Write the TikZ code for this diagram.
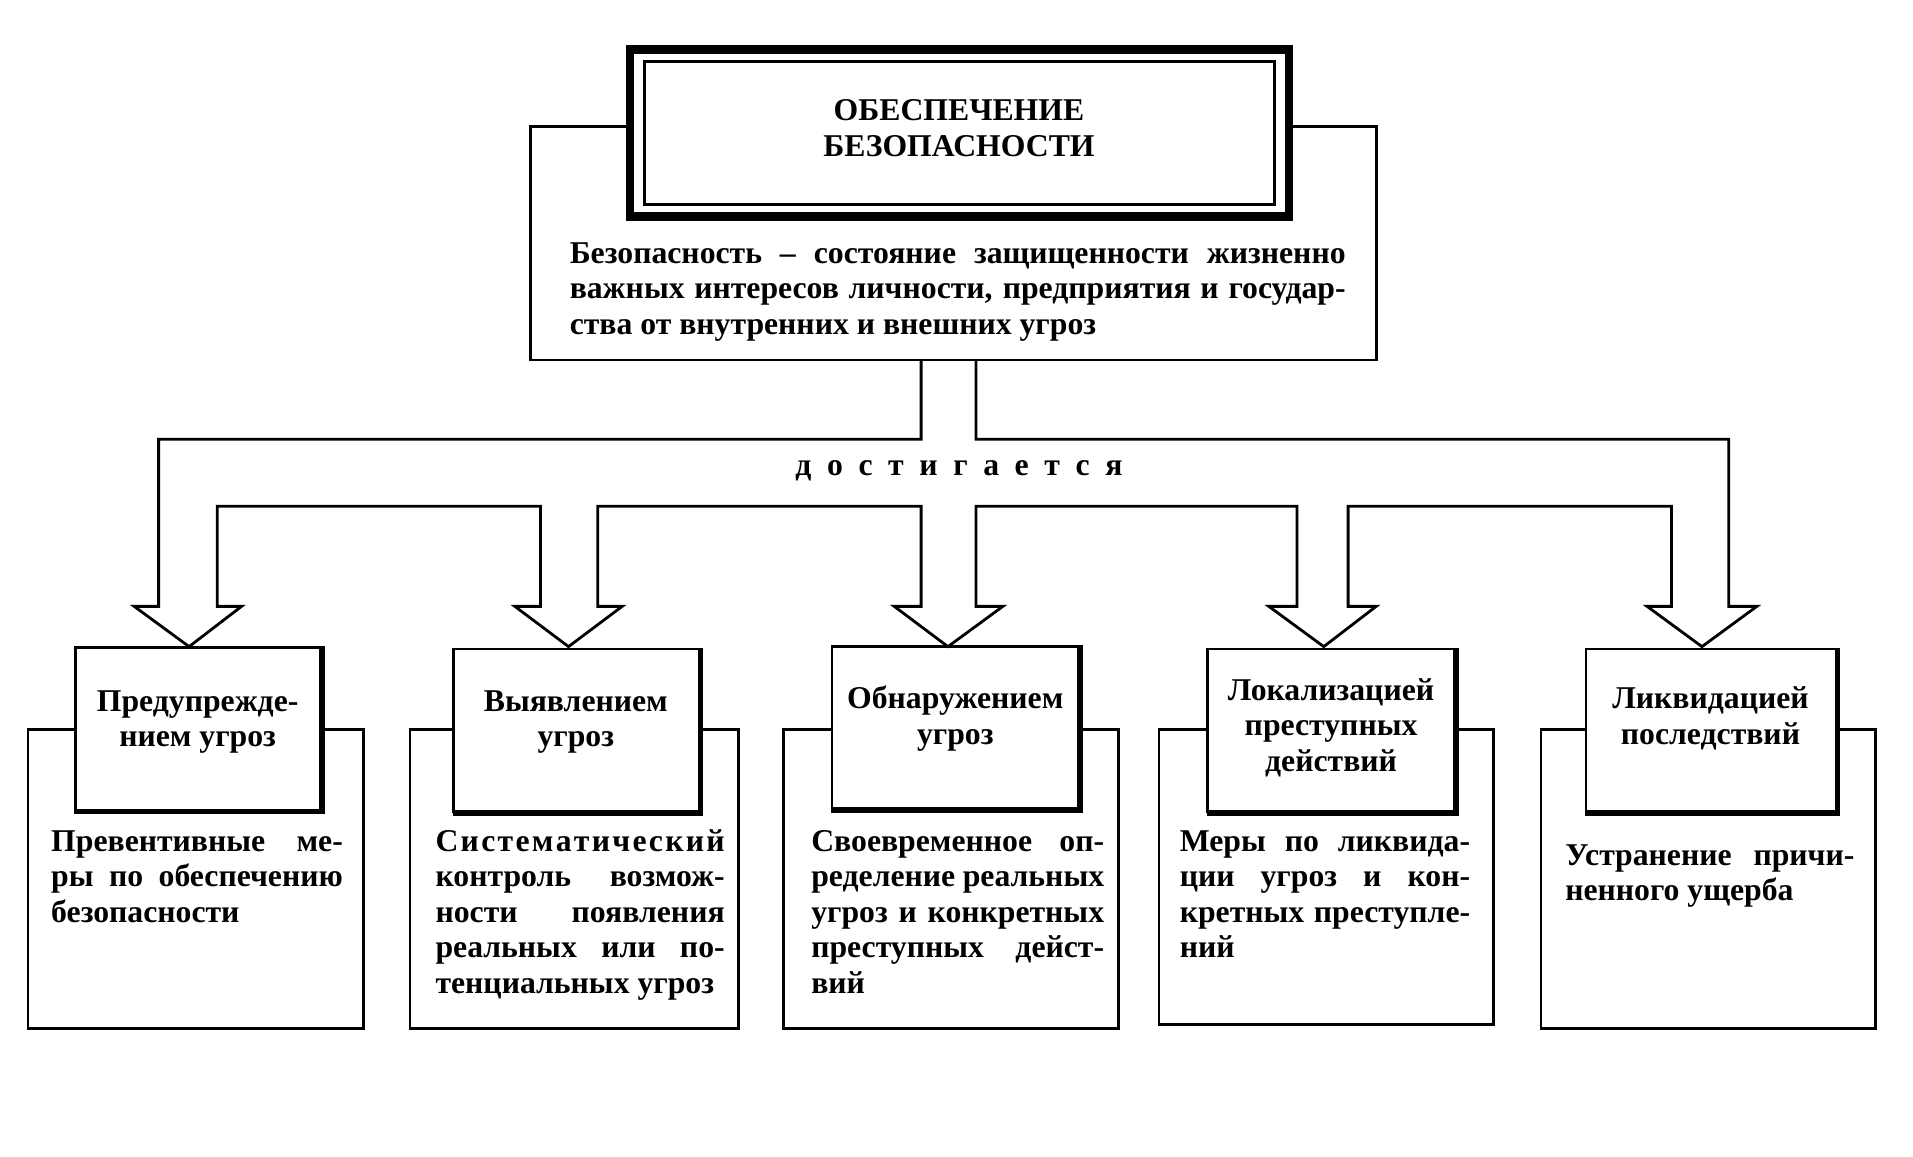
\documentclass[tikz,border=0pt]{standalone}
\usepackage{fontspec}
\setmainfont{Liberation Serif}
\newcommand\jline[2]{\makebox[#1][s]{#2}}
\begin{document}
\begin{tikzpicture}[x=1pt,y=-1pt,
  txt/.style={inner sep=0pt, outer sep=0pt, align=left, font=\fontsize{26}{29}\selectfont\bfseries},
  ctxt/.style={inner sep=0pt, outer sep=0pt, align=center, font=\fontsize{26}{29}\selectfont\bfseries},
  descbox/.style={draw, line width=2.3pt, fill=white, anchor=north west, inner sep=0pt, outer sep=0pt},
  labbox/.style={draw, line width=2.3pt, fill=white, anchor=north west, inner sep=0pt, outer sep=0pt, minimum height=133pt},
  shadowline/.style={line width=4.5pt, line cap=rect},
  pipe/.style={line width=2.3pt, line join=miter},
]
\useasboundingbox (0,0) rectangle (1568,948.3);
\fill[white] (0,0) rectangle (1568,948.3);

% description boxes
\node[descbox, minimum width=275pt, minimum height=245pt] (d1) at (23,598) {};
\node[descbox, minimum width=269pt, minimum height=245pt] (d2) at (336,598) {};
\node[descbox, minimum width=275pt, minimum height=245pt] (d3) at (642,598) {};
\node[descbox, minimum width=274pt, minimum height=242pt] (d4) at (950,598) {};
\node[descbox, minimum width=274pt, minimum height=245pt] (d5) at (1263,598) {};

% label boxes
\node[labbox, minimum width=201pt] (l1) at (62,531) {};
\node[labbox, minimum width=201pt] (l2) at (372,532) {};
\node[labbox, minimum width=202pt] (l3) at (682,530) {};
\node[labbox, minimum width=202pt] (l4) at (990,532) {};
\node[labbox, minimum width=205pt] (l5) at (1300,532) {};
\foreach \n in {l1,l2,l3,l4,l5}{
  \draw[shadowline] ([xshift=1.2pt,yshift=-1pt]\n.north east) -- ([xshift=1.2pt,yshift=-1.2pt]\n.south east) -- ([xshift=1.2pt,yshift=-1.2pt]\n.south west);
}

% label texts
\node[ctxt, anchor=north] (lt1) at (162,562.7) {\strut Предупрежде-\\нием угроз};
\node[ctxt, anchor=north] (lt2) at (472,562.7) {\strut Выявлением\\угроз};
\node[ctxt, anchor=north] (lt3) at (783,560.7) {\strut Обнаружением\\угроз};
\node[ctxt, anchor=north] (lt4) at (1091,553.7) {\strut Локализацией\\преступных\\действий};
\node[ctxt, anchor=north] (lt5) at (1402,560.7) {\strut Ликвидацией\\последствий};

% description texts
\node[txt, anchor=north west] (t1) at (42,677.7) {\strut\jline{239pt}{Превентивные ме-}\\\jline{239pt}{ры по обеспечению}\\безопасности};
\node[txt, anchor=north west] (t2) at (357,677.7) {\strut\hbox to 237pt{С\hfill и\hfill с\hfill т\hfill е\hfill м\hfill а\hfill т\hfill и\hfill ч\hfill е\hfill с\hfill к\hfill и\hfill й}\\\jline{237pt}{контроль возмож-}\\\jline{237pt}{ности появления}\\\jline{237pt}{реальных или по-}\\тенциальных угроз};
\node[txt, anchor=north west] (t3) at (665,677.7) {\strut\jline{240pt}{Своевременное оп-}\\\jline{240pt}{ределение реальных}\\\jline{240pt}{угроз и конкретных}\\\jline{240pt}{преступных дейст-}\\вий};
\node[txt, anchor=north west] (t4) at (967,677.7) {\strut\jline{238pt}{Меры по ликвида-}\\\jline{238pt}{ции угроз и кон-}\\\jline{238pt}{кретных преступле-}\\ний};
\node[txt, anchor=north west] (t5) at (1283,688.7) {\strut\jline{237pt}{Устранение причи-}\\ненного ущерба};

% definition box
\node[descbox, minimum width=693pt, minimum height=191pt] (def) at (435,104) {};
\node[txt, anchor=north west] (deftext) at (467,195.7) {\strut\jline{636pt}{Безопасность – состояние защищенности жизненно}\\\jline{636pt}{важных интересов личности, предприятия и государ-}\\ства от внутренних и внешних угроз};

% title box
\node[draw, line width=7pt, fill=white, anchor=north west, inner sep=0pt, outer sep=0pt, minimum width=540pt, minimum height=137pt] (title) at (516.5,40.5) {};
\node[draw, line width=2.5pt, inner sep=0pt, outer sep=0pt, minimum width=517pt, minimum height=117pt] (titlein) at (title.center) {};
\node[ctxt, anchor=north] (ttext) at (786,78.7) {\strut ОБЕСПЕЧЕНИЕ\\БЕЗОПАСНОСТИ};

% connector pipe
\coordinate (cl) at (755,0);
\coordinate (cr) at (800,0);
\draw[pipe] (def.south -| cl) -- (755,360) -- (130,360) -- (130,497) -- (110,497) -- (155,530) -- (198,497) -- (178,497) -- (178,415) -- (443,415) -- (443,497) -- (422,497) -- (466,530) -- (510,497) -- (490,497) -- (490,415) -- (755,415) -- (755,497) -- (733,497) -- (777,530) -- (822,497) -- (800,497) -- (800,415) -- (1063,415) -- (1063,497) -- (1040,497) -- (1085,530) -- (1128,497) -- (1105,497) -- (1105,415) -- (1370,415) -- (1370,497) -- (1350,497) -- (1395,530) -- (1440,497) -- (1417,497) -- (1417,360) -- (800,360) -- (def.south -| cr);

\node[inner sep=0pt, outer sep=0pt, anchor=base, font=\fontsize{26}{29}\selectfont\bfseries] (dost) at (786,390) {\hbox to 268pt{д\hfill о\hfill с\hfill т\hfill и\hfill г\hfill а\hfill е\hfill т\hfill с\hfill я}};
\end{tikzpicture}
\end{document}
